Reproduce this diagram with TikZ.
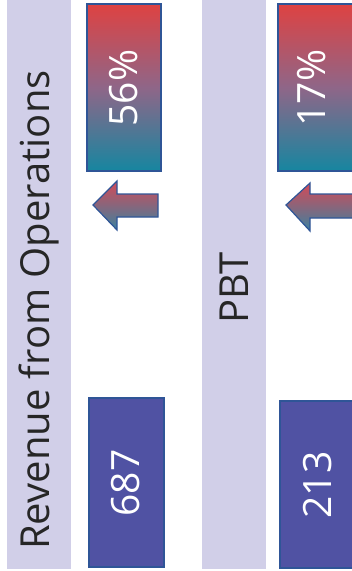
\documentclass[tikz,border=0pt]{standalone}
\usepackage{fontspec}
\setmainfont{Open Sans}
\begin{document}
\begin{tikzpicture}[x=1pt,y=-1pt,
  strip/.style={fill=lav, draw=none},
  pct/.style={draw=bordblue, line width=1.2pt, top color=gred, bottom color=gteal, middle color=gmid},
  valbox/.style={draw=bordblue, line width=1.2pt, fill=valblue},
  arrowshape/.style={draw=bordblue, line width=1.2pt, top color=ared, bottom color=ateal},
  wtxt/.style={text=white, font=\fontsize{39}{42}\selectfont, rotate=90},
  btxt/.style={text=black!85, font=\fontsize{40}{44}\selectfont, rotate=90}]
\definecolor{lav}{HTML}{D1CFE8}
\definecolor{bordblue}{HTML}{2F5597}
\definecolor{gred}{HTML}{DE4242}
\definecolor{gmid}{HTML}{8F6688}
\definecolor{gteal}{HTML}{1686A0}
\definecolor{valblue}{HTML}{5052A3}
\definecolor{ared}{HTML}{D44A58}
\definecolor{ateal}{HTML}{3A82A0}
\useasboundingbox (0,0) rectangle (352,571);
% strips
\path[strip] (7,0) rectangle (71,569);
\path[strip] (202,0) rectangle (266,569);
\node[btxt] (lab1) at (39,310) {Revenue from Operations};
\node[btxt] (lab2) at (234,288) {PBT};
% percent boxes
\draw[pct] (87,4) rectangle (161,171);
\node[wtxt] (p1) at (124,88) {56\%};
\draw[pct] (278,4) rectangle (360,171);
\node[wtxt] (p2) at (312,88) {17\%};
% arrows
\draw[arrowshape] (93,205) -- (117,181) -- (117,194) -- (158,194) -- (158,217) -- (117,217) -- (117,230) -- cycle;
\draw[arrowshape] (286,205) -- (310,183) -- (310,194) -- (360,194) -- (360,218) -- (310,218) -- (310,231) -- cycle;
% value boxes
\draw[valbox] (89,398) rectangle (164,567);
\node[wtxt] (v1) at (126,483) {687};
\draw[valbox] (280,401) rectangle (360,568);
\node[wtxt] (v2) at (318,485) {213};
\end{tikzpicture}
\end{document}
